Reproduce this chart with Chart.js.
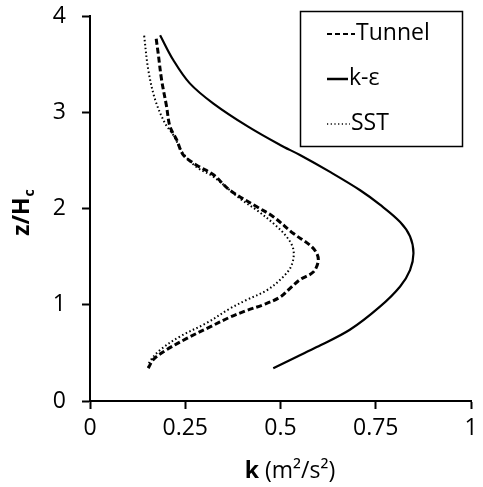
<!DOCTYPE html>
<html>
<head>
<meta charset="utf-8">
<script src="https://cdn.jsdelivr.net/npm/chart.js@4.4.0/dist/chart.umd.min.js"></script>
<style>
  html, body { margin: 0; padding: 0; background: #fff; }
  #wrap { width: 483px; height: 487px; }
</style>
</head>
<body>
<div id="wrap"><canvas id="myChart" width="483" height="487"></canvas></div>
<script>
// valores (k em m2/s2, z/Hc)
var tunnelK = [0.153, 0.166, 0.200, 0.254, 0.315, 0.367, 0.411, 0.455, 0.499, 0.525, 0.551, 0.586, 0.599, 0.595, 0.577, 0.534, 0.481, 0.437, 0.367, 0.324, 0.280, 0.245, 0.228, 0.210, 0.201, 0.188, 0.179, 0.173];
var tunnelZ = [0.34, 0.43, 0.53, 0.65, 0.77, 0.87, 0.94, 1.00, 1.08, 1.17, 1.26, 1.34, 1.45, 1.535, 1.62, 1.74, 1.915, 2.02, 2.19, 2.35, 2.45, 2.556, 2.71, 2.85, 3.06, 3.335, 3.61, 3.785];

var keK = [0.481, 0.543, 0.595, 0.682, 0.761, 0.814, 0.840, 0.849, 0.840, 0.814, 0.761, 0.709, 0.630, 0.551, 0.499, 0.415, 0.324, 0.262, 0.219, 0.184];
var keZ = [0.34, 0.46, 0.56, 0.74, 0.98, 1.19, 1.36, 1.535, 1.71, 1.86, 2.04, 2.19, 2.38, 2.556, 2.66, 2.85, 3.09, 3.30, 3.54, 3.80];

var sstK = [0.153, 0.157, 0.184, 0.236, 0.306, 0.367, 0.411, 0.464, 0.507, 0.529, 0.534, 0.516, 0.481, 0.437, 0.398, 0.367, 0.324, 0.280, 0.245, 0.219, 0.197, 0.171, 0.153, 0.142];
var sstZ = [0.35, 0.41, 0.53, 0.67, 0.81, 0.96, 1.05, 1.15, 1.29, 1.41, 1.57, 1.707, 1.846, 1.985, 2.09, 2.19, 2.33, 2.43, 2.57, 2.76, 2.885, 3.13, 3.44, 3.80];

var xTicks = [0, 0.25, 0.5, 0.75, 1];
var yTicks = [0, 1, 2, 3, 4];

var legendLabels = ['Tunnel', 'k-ε', 'SST'];

function pts(ks, zs) {
    return ks.map(function (k, i) { return { x: k, y: zs[i] }; });
}

var fontFam = '"Open Sans", "Noto Sans", sans-serif';

// titulos dos eixos e legenda dentro da area do grafico
var extras = {
    id: 'extras',
    afterDraw: function (chart) {
        var c = chart.ctx;
        c.save();
        c.fillStyle = '#000';

        // titulo y: z/Hc (rotacionado)
        c.translate(29, 213);
        c.rotate(-Math.PI / 2);
        c.font = 'bold 23px ' + fontFam;
        var w1 = c.measureText('z/H').width;
        c.font = 'bold 14px ' + fontFam;
        var w2 = c.measureText('c').width;
        var sx = -(w1 + w2) / 2;
        c.textBaseline = 'alphabetic';
        c.font = 'bold 23px ' + fontFam;
        c.fillText('z/H', sx, 0);
        c.font = 'bold 14px ' + fontFam;
        c.fillText('c', sx + w1 + 1, 5);
        c.restore();

        // titulo x: k (m2/s2)
        c.save();
        c.fillStyle = '#000';
        c.textBaseline = 'alphabetic';
        c.font = 'bold 23px ' + fontFam;
        var wk = c.measureText('k').width;
        c.font = '23px ' + fontFam;
        var wr = c.measureText(' (m²/s²)').width;
        var x0 = 290 - (wk + wr) / 2;
        c.font = 'bold 23px ' + fontFam;
        c.fillText('k', x0, 478);
        c.font = '23px ' + fontFam;
        c.fillText(' (m²/s²)', x0 + wk, 478);

        // legenda
        c.strokeStyle = '#000';
        c.lineWidth = 1.5;
        c.strokeRect(300.5, 11.5, 162, 135);
        var rows = [33, 78, 123];
        var sampleEnd = [355, 348, 350];
        c.font = '23px ' + fontFam;
        c.textBaseline = 'middle';
        chart.data.datasets.forEach(function (ds, i) {
            var y = rows[i];
            c.beginPath();
            c.setLineDash(ds.legendDash);
            c.lineWidth = ds.legendWidth;
            c.moveTo(327, y + 1);
            c.lineTo(sampleEnd[i], y + 1);
            c.stroke();
            c.setLineDash([]);
            c.fillText(legendLabels[i], sampleEnd[i] + 1, y);
        });
        c.restore();
    }
};

var ctx = document.getElementById('myChart').getContext('2d');
var chart = new Chart(ctx, {
    type: 'scatter',
    data: {
        datasets: [
            {
                label: legendLabels[0],
                data: pts(tunnelK, tunnelZ),
                showLine: true,
                borderColor: '#000',
                borderWidth: 3,
                borderDash: [6, 3],
                pointRadius: 0,
                tension: 0.35,
                legendDash: [5, 3],
                legendWidth: 2
            },
            {
                label: legendLabels[1],
                data: pts(keK, keZ),
                showLine: true,
                borderColor: '#000',
                borderWidth: 2.2,
                pointRadius: 0,
                tension: 0.35,
                legendDash: [],
                legendWidth: 2.5
            },
            {
                label: legendLabels[2],
                data: pts(sstK, sstZ),
                showLine: true,
                borderColor: '#000',
                borderWidth: 2,
                borderDash: [1.5, 2.5],
                pointRadius: 0,
                tension: 0.35,
                legendDash: [1.2, 2.5],
                legendWidth: 1.5
            }
        ]
    },
    options: {
        responsive: false,
        animation: false,
        layout: { padding: { top: 16, right: 12, left: 0, bottom: 0 } },
        plugins: {
            legend: { display: false },
            tooltip: { enabled: false }
        },
        scales: {
            x: {
                type: 'linear',
                min: 0,
                max: 1,
                afterBuildTicks: function (s) { s.ticks = xTicks.map(function (v) { return { value: v }; }); },
                afterFit: function (s) { s.height = 86; s.paddingLeft = 0; s.paddingRight = 0; },
                ticks: {
                    color: '#000',
                    font: { family: fontFam, size: 23 },
                    padding: 6,
                    maxRotation: 0,
                    callback: function (v) { return String(v); }
                },
                grid: { drawOnChartArea: false, tickLength: 8, tickColor: '#000', tickWidth: 2 },
                border: { color: '#000', width: 2 }
            },
            y: {
                type: 'linear',
                min: 0,
                max: 4,
                afterBuildTicks: function (s) { s.ticks = yTicks.map(function (v) { return { value: v }; }); },
                afterFit: function (s) { s.width = 90; s.paddingTop = 0; s.paddingBottom = 0; },
                ticks: {
                    color: '#000',
                    font: { family: fontFam, size: 23 },
                    padding: 16,
                    callback: function (v) { return String(v); }
                },
                grid: { drawOnChartArea: false, tickLength: 8, tickColor: '#000', tickWidth: 2 },
                border: { color: '#000', width: 2 }
            }
        }
    },
    plugins: [extras]
});
</script>
</body>
</html>
